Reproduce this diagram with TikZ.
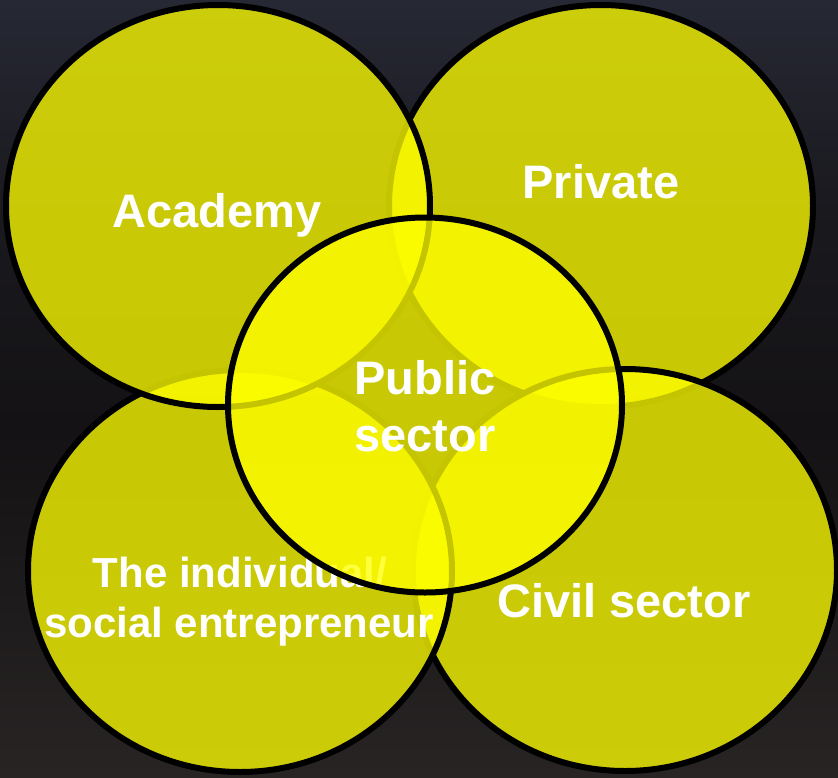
\documentclass[tikz,border=0pt]{standalone}
\usepackage{fontspec}
\setmainfont{Liberation Sans}
\usetikzlibrary{shapes.geometric}
\definecolor{bgtop}{RGB}{38,40,52}
\definecolor{bgmid}{RGB}{20,18,20}
\definecolor{bgbot}{RGB}{40,36,36}
\definecolor{vyellow}{RGB}{255,255,0}
\begin{document}
\begin{tikzpicture}[x=1pt,y=-1pt,
  sector/.style={ellipse, draw=black, line width=6pt, fill=vyellow,
    fill opacity=0.77, draw opacity=1, inner sep=0pt,
    minimum width=424pt, minimum height=402pt},
  centresector/.style={sector, minimum width=394pt, minimum height=375pt},
  sectortext/.style={text=white, text opacity=1, inner sep=0pt, anchor=base,
    font=\bfseries\fontsize{47}{56}\selectfont},
  smalltext/.style={sectortext, font=\bfseries\fontsize{42}{50}\selectfont}]
\useasboundingbox (0,0) rectangle (838,777);
% background
\shade[top color=bgtop, bottom color=bgmid, middle color=bgmid!70!bgtop] (0,0) rectangle (838,430);
\shade[top color=bgmid, bottom color=bgbot] (0,430) rectangle (838,777);
% circles, back to front
\node[sector] (private) at (601,206) {};
\node[sectortext] (privatetext) at (601,198) {Private};
\node[sector] (civil) at (625,570) {};
\node[sectortext] (civiltext) at (624,617) {Civil sector};
\node[sector] (individual) at (240,571) {};
\node[smalltext] (indivtexta) at (240,587) {The individual/};
\node[smalltext] (indivtextb) at (239,637) {social entrepreneur};
\node[sector] (academy) at (218,206) {};
\node[sectortext] (academytext) at (217,227) {Academy};
\node[centresector] (public) at (425,405) {};
\node[sectortext] (publictexta) at (425,394) {Public};
\node[sectortext] (publictextb) at (425,451) {sector};
\end{tikzpicture}
\end{document}
